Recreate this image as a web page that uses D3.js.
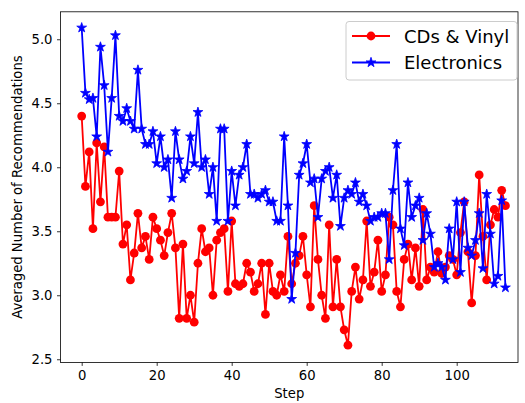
<!DOCTYPE html>
<html>
<head>
<meta charset="utf-8">
<script src="https://cdn.jsdelivr.net/npm/d3@7"></script>
<style>
  html, body { margin: 0; padding: 0; background: #fff; }
  svg { display: block; font-family: "DejaVu Sans", sans-serif; }
</style>
</head>
<body>
<svg id="chart" width="525" height="403"></svg>
<script>
const width = 525;
const height = 403;

// values, one per step (0..113)
const cdsVinyl = [
  4.40, 3.85, 4.12, 3.52, 4.19, 3.73, 4.16, 3.61, 3.61, 3.61,
  3.97, 3.40, 3.55, 3.12, 3.33, 3.64, 3.37, 3.46, 3.28, 3.61,
  3.52, 3.43, 3.31, 3.49, 3.64, 3.37, 2.82, 3.40, 2.82, 3.00,
  2.79, 3.25, 3.52, 3.34, 3.37, 3.00, 3.43, 3.49, 3.52, 3.03,
  3.58, 3.09, 3.07, 3.09, 3.25, 3.18, 3.03, 3.09, 3.25, 2.85,
  3.25, 3.03, 3.00, 3.16, 3.03, 3.46, 3.09, 3.25, 3.31, 3.46,
  3.16, 2.91, 3.70, 3.28, 3.00, 2.82, 3.55, 2.91, 3.28, 2.91,
  2.73, 2.61, 3.03, 3.22, 2.97, 3.12, 3.58, 3.07, 3.18, 3.43,
  3.03, 3.16, 3.61, 3.55, 3.03, 2.91, 3.28, 3.40, 3.12, 3.37,
  3.07, 3.67, 3.12, 3.22, 3.18, 3.34, 3.17, 3.22, 3.31, 3.28,
  3.16, 3.49, 3.73, 3.34, 2.94, 3.31, 3.94, 3.46, 3.12, 3.55,
  3.67, 3.61, 3.82, 3.70
];
const electronics = [
  5.09, 4.58, 4.53, 4.54, 4.24, 4.94, 4.64, 4.12, 4.54, 5.03,
  4.40, 4.36, 4.46, 4.36, 4.30, 4.76, 4.30, 4.18, 4.18, 4.28,
  4.03, 4.24, 4.00, 4.06, 3.76, 4.28, 4.06, 3.91, 3.97, 4.24,
  4.03, 4.43, 4.00, 4.06, 3.79, 4.00, 3.58, 4.30, 4.30, 3.58,
  3.97, 3.70, 3.94, 4.00, 4.18, 3.79, 3.79, 3.76, 3.79, 3.82,
  3.73, 3.73, 3.58, 3.58, 4.24, 3.70, 2.97, 3.33, 3.94, 4.03,
  4.18, 3.88, 3.91, 3.61, 3.91, 3.97, 4.00, 3.76, 3.94, 3.54,
  3.76, 3.82, 3.79, 3.88, 3.73, 3.79, 3.70, 3.58, 3.61, 3.61,
  3.64, 3.64, 3.28, 3.82, 4.18, 3.52, 3.39, 3.88, 3.61, 3.70,
  3.76, 3.43, 3.64, 3.48, 3.22, 3.25, 3.22, 3.12, 3.52, 3.28,
  3.73, 3.18, 3.73, 3.37, 3.31, 3.43, 3.64, 3.21, 3.79, 3.48,
  3.09, 3.15, 3.74, 3.06
];
const seriesNames = ["CDs & Vinyl", "Electronics"];
const xTicks = [0, 20, 40, 60, 80, 100];
const yTicks = [2.5, 3.0, 3.5, 4.0, 4.5, 5.0];

const plot = {left: 60.5, right: 518, top: 11.8, bottom: 362.4};

const svg = d3.select("#chart");

const x = d3.scaleLinear()
    .domain([-5.65, 116.35])
    .range([plot.left, plot.right]);
const y = d3.scaleLinear()
    .domain([2.4755, 5.2145])
    .range([plot.bottom, plot.top]);

// axes
const xAxis = svg.append("g")
    .attr("transform", `translate(0,${plot.bottom})`)
    .call(d3.axisBottom(x).tickValues(xTicks).tickSize(3.5).tickPadding(4.5).tickFormat(d3.format("d")));
const yAxis = svg.append("g")
    .attr("transform", `translate(${plot.left},0)`)
    .call(d3.axisLeft(y).tickValues(yTicks).tickSize(3.5).tickPadding(4.5).tickFormat(d3.format(".1f")));

[xAxis, yAxis].forEach(g => {
    g.select(".domain").remove();
    g.selectAll("line").attr("stroke", "#000").attr("stroke-width", 0.8);
    g.selectAll("text")
        .attr("fill", "#000")
        .attr("font-size", 13.2)
        .attr("font-family", "DejaVu Sans, sans-serif");
});

// frame
svg.append("rect")
    .attr("x", plot.left)
    .attr("y", plot.top)
    .attr("width", plot.right - plot.left)
    .attr("height", plot.bottom - plot.top)
    .attr("fill", "none")
    .attr("stroke", "#000")
    .attr("stroke-width", 0.8);

// axis labels
svg.append("text")
    .attr("x", (plot.left + plot.right) / 2)
    .attr("y", 398)
    .attr("text-anchor", "middle")
    .attr("font-size", 13.2)
    .text("Step");

svg.append("text")
    .attr("transform", `translate(22,${(plot.top + plot.bottom) / 2}) rotate(-90)`)
    .attr("text-anchor", "middle")
    .attr("font-size", 13.2)
    .text("Averaged Number of Recommendations");

const line = d3.line()
    .x((d, i) => x(i))
    .y(d => y(d));

// CDs & Vinyl
svg.append("path")
    .datum(cdsVinyl)
    .attr("d", line)
    .attr("fill", "none")
    .attr("stroke", "#ff0000")
    .attr("stroke-width", 1.8);
svg.append("g").selectAll("circle")
    .data(cdsVinyl)
    .enter().append("circle")
    .attr("cx", (d, i) => x(i))
    .attr("cy", d => y(d))
    .attr("r", 4.4)
    .attr("fill", "#ff0000");

// Electronics
const star = d3.symbol().type(d3.symbolStar).size(30);
svg.append("path")
    .datum(electronics)
    .attr("d", line)
    .attr("fill", "none")
    .attr("stroke", "#0000ff")
    .attr("stroke-width", 1.8);
svg.append("g").selectAll("path")
    .data(electronics)
    .enter().append("path")
    .attr("d", star)
    .attr("transform", (d, i) => `translate(${x(i)},${y(d)})`)
    .attr("fill", "#0000ff")
    .attr("stroke", "#0000ff")
    .attr("stroke-width", 0.8);

// legend
const legend = svg.append("g");
legend.append("rect")
    .attr("x", 346)
    .attr("y", 21.5)
    .attr("width", 171)
    .attr("height", 58.5)
    .attr("rx", 3)
    .attr("fill", "#fff")
    .attr("fill-opacity", 0.8)
    .attr("stroke", "#cccccc")
    .attr("stroke-width", 1);

const legendRows = [
    {name: seriesNames[0], color: "#ff0000", marker: "circle", cy: 36},
    {name: seriesNames[1], color: "#0000ff", marker: "star", cy: 62.5}
];
legendRows.forEach(r => {
    legend.append("line")
        .attr("x1", 352).attr("x2", 390)
        .attr("y1", r.cy).attr("y2", r.cy)
        .attr("stroke", r.color)
        .attr("stroke-width", 1.8);
    if (r.marker === "circle") {
        legend.append("circle")
            .attr("cx", 371).attr("cy", r.cy).attr("r", 4.4)
            .attr("fill", r.color);
    } else {
        legend.append("path")
            .attr("d", star)
            .attr("transform", `translate(371,${r.cy})`)
            .attr("fill", r.color)
            .attr("stroke", r.color)
            .attr("stroke-width", 0.8);
    }
    legend.append("text")
        .attr("x", 404)
        .attr("y", r.cy + 6.5)
        .attr("font-size", 18)
        .text(r.name);
});
</script>
</body>
</html>
